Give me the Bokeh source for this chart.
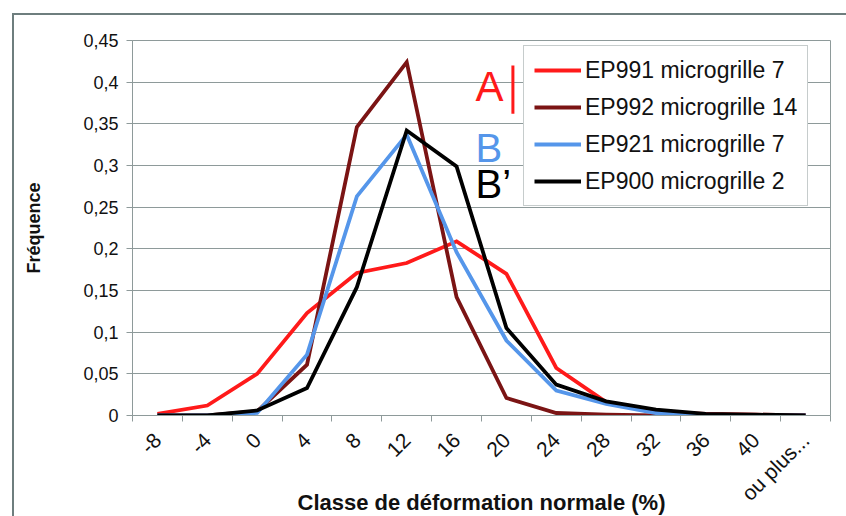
import math
import numpy as np
from bokeh.plotting import figure
from bokeh.models import (Range1d, FixedTicker, Legend, LegendItem, Label)
from bokeh.embed import file_html
from bokeh.resources import INLINE

categories = ["-8", "-4", "0", "4", "8", "12", "16", "20", "24", "28", "32", "36", "40", "ou plus..."]
ep991_7 = [0.002, 0.012, 0.050, 0.123, 0.171, 0.183, 0.209, 0.170, 0.057, 0.016, 0.004, 0.002, 0.001, 0.000]
ep992_14 = [0.000, 0.000, 0.005, 0.061, 0.346, 0.424, 0.142, 0.021, 0.003, 0.001, 0.000, 0.000, 0.000, 0.000]
ep921_7 = [0.000, 0.000, 0.003, 0.073, 0.263, 0.337, 0.196, 0.090, 0.030, 0.014, 0.003, 0.001, 0.000, 0.000]
ep900_2 = [0.000, 0.000, 0.006, 0.033, 0.154, 0.342, 0.299, 0.105, 0.037, 0.017, 0.007, 0.002, 0.001, 0.000]
series_names = ["EP991 microgrille 7", "EP992 microgrille 14", "EP921 microgrille 7", "EP900 microgrille 2"]
series_colors = ["#ff1a1a", "#7b1414", "#5596ea", "#000000"]
y_ticks = [0, 0.05, 0.1, 0.15, 0.2, 0.25, 0.3, 0.35, 0.4, 0.45]
y_labels = ["0", "0,05", "0,1", "0,15", "0,2", "0,25", "0,3", "0,35", "0,4", "0,45"]

FONT = "Liberation Sans"
GRID = "#8e9a9a"

n = len(categories)
xs = np.arange(n) + 0.5

p = figure(frame_width=698, frame_height=375, output_backend="svg", toolbar_location=None,
           x_range=Range1d(0, n), y_range=Range1d(0, 0.45),
           min_border_left=118, min_border_top=25, min_border_right=16, min_border_bottom=101)
p.background_fill_color = "white"
p.border_fill_color = "white"
p.outline_line_color = GRID
p.outline_line_width = 1
# outer frame of the chart area (left and top edges visible, as in the reference)
p.styles = {"margin-left": "12px", "margin-top": "13px",
            "border-left": "2px solid #6e7e7e", "border-top": "2px solid #6e7e7e"}

lines = []
for vals, name, col in zip([ep991_7, ep992_14, ep921_7, ep900_2], series_names, series_colors):
    r = p.line(xs, vals, line_color=col, line_width=3.8, line_join="miter")
    lines.append((name, r))

# x axis
p.xaxis.ticker = FixedTicker(ticks=list(xs), minor_ticks=list(range(n + 1)))
p.xaxis.major_label_overrides = {float(x): c for x, c in zip(xs, categories)}
p.xaxis.major_tick_line_color = None
p.xaxis.major_tick_out = 6
p.xaxis.major_tick_in = 0
p.xaxis.major_label_standoff = 15
p.xaxis.minor_tick_line_color = GRID
p.xaxis.minor_tick_out = 6
p.xaxis.minor_tick_in = 0
p.xaxis.major_label_orientation = math.pi / 4
p.xaxis.major_label_text_font = FONT
p.xaxis.major_label_text_font_size = "21px"
p.xaxis.major_label_text_color = "#111111"
p.xaxis.axis_line_color = GRID
p.xaxis.axis_label = "Classe de déformation normale (%)"
p.xaxis.axis_label_text_font = FONT
p.xaxis.axis_label_text_font_style = "bold"
p.xaxis.axis_label_text_font_size = "22px"
p.xaxis.axis_label_text_color = "#111111"
p.xaxis.axis_label_standoff = -26
p.xgrid.grid_line_color = None

# y axis
p.yaxis.ticker = FixedTicker(ticks=y_ticks)
p.yaxis.major_label_overrides = {t: l for t, l in zip(y_ticks, y_labels)}
p.yaxis.minor_tick_line_color = None
p.yaxis.major_tick_line_color = GRID
p.yaxis.major_tick_out = 6
p.yaxis.major_tick_in = 0
p.yaxis.major_label_standoff = 8
p.yaxis.major_label_text_font = FONT
p.yaxis.major_label_text_font_size = "18px"
p.yaxis.major_label_text_color = "#111111"
p.yaxis.axis_line_color = GRID
p.yaxis.axis_label = "Fréquence"
p.yaxis.axis_label_text_font = FONT
p.yaxis.axis_label_text_font_style = "bold"
p.yaxis.axis_label_text_font_size = "18px"
p.yaxis.axis_label_text_color = "#111111"
p.yaxis.axis_label_standoff = 36
p.ygrid.grid_line_color = GRID
p.ygrid.grid_line_width = 1

legend = Legend(items=[LegendItem(label=nm, renderers=[r]) for nm, r in lines],
                location=(391, 209), border_line_color=GRID, border_line_width=1,
                background_fill_alpha=1.0, label_text_font=FONT, label_text_font_size="23px",
                label_text_color="#111111", glyph_width=47, glyph_height=28, label_height=28,
                spacing=9, padding=10, label_standoff=4, margin=0)
p.add_layout(legend, "center")

# annotations A / B / B'
p.add_layout(Label(x=6.88, y=0.367, text="A", text_color="#ff1a1a", text_font=FONT, text_font_size="42px"))
p.add_layout(Label(x=6.88, y=0.295, text="B", text_color="#5596ea", text_font=FONT, text_font_size="40px"))
p.add_layout(Label(x=6.88, y=0.252, text="B’", text_color="#000000", text_font=FONT, text_font_size="40px"))
p.segment(x0=[7.63], y0=[0.362], x1=[7.63], y1=[0.42], line_color="#ff1a1a", line_width=3)

open("out.html", "w").write(file_html(p, INLINE))
